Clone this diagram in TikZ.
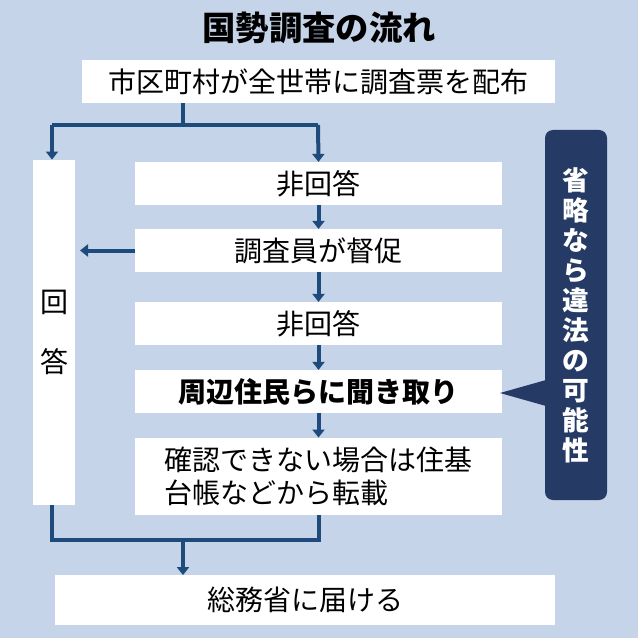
\documentclass[tikz,border=0pt]{standalone}
\usepackage{fontspec}
\setmainfont{Noto Sans CJK JP}
\usetikzlibrary{arrows.meta,positioning}
\definecolor{bgblue}{HTML}{C6D4EA}
\definecolor{navy}{HTML}{1F4A7C}
\definecolor{calloutblue}{HTML}{253A64}
\tikzset{
    % white step boxes
    stepbox/.style={
           rectangle,
           fill=white,
           inner sep=0pt,
           font=\fontsize{21}{25}\selectfont},
    % flow arrows
    flow/.style={
           -{Triangle[width=9pt,length=6pt]},
           navy, line width=3pt},
    flowline/.style={navy, line width=3pt}
}
\begin{document}
\begin{tikzpicture}[x=0.75pt,y=-0.75pt]
    \useasboundingbox[fill=bgblue] (0,0) rectangle (638,638);
    % title
    \node[font=\fontsize{25}{30}\selectfont\bfseries] (title) at (319,28) {国勢調査の流れ};

    % boxes
    \node[stepbox, minimum width=355pt, minimum height=32pt] (distribute) at (318.5,81.5) {市区町村が全世帯に調査票を配布};
    \node[stepbox, minimum width=31.5pt, minimum height=259pt, align=center] (answer) at (54,332.5) {回\\[20pt]答};
    \node[stepbox, minimum width=275pt, minimum height=32pt] (noans1) at (318.5,183.5) {非回答};
    \node[stepbox, minimum width=275pt, minimum height=32pt] (urge) at (318.5,250.5) {調査員が督促};
    \node[stepbox, minimum width=275pt, minimum height=32pt] (noans2) at (318.5,323.5) {非回答};
    \node[stepbox, minimum width=275pt, minimum height=32pt, font=\fontsize{21}{25}\selectfont\bfseries] (hearing) at (318.5,391.5) {周辺住民らに聞き取り};
    \node[stepbox, minimum width=275pt, minimum height=58pt, align=left] (transcribe) at (318.5,476.5) {確認できない場合は住基\\台帳などから転載};
    \node[stepbox, minimum width=375pt, minimum height=37pt] (report) at (305,600) {総務省に届ける};

    % callout
    \fill[calloutblue, rounded corners=6pt] (545,130) rectangle (607,500);
    \fill[calloutblue] (546,380) -- (500,393) -- (546,406) -- cycle;
    \node[text=white, font=\fontsize{20}{22.5}\selectfont\bfseries, align=center] (callout) at (576,315) {省\\略\\な\\ら\\違\\法\\の\\可\\能\\性};

    % split after distribution
    \coordinate (split) at (183,125);
    \coordinate (leftsplit) at (52,125);
    \coordinate (rightsplit) at (318,125);
    \draw[flowline] (distribute.south -| split) -- (split);
    \draw[flowline] (leftsplit) -- (rightsplit);
    \draw[flow] (leftsplit) -- (leftsplit |- answer.north);
    \draw[flow] (rightsplit) -- (noans1.north);

    % main column
    \draw[flow] (noans1) -- (urge);
    \draw[flow] (urge) -- (noans2);
    \draw[flow] (noans2) -- (hearing);
    \draw[flow] (hearing) -- (transcribe);
    \draw[flow] (urge.west) -- (80,250.5);

    % merge to report
    \coordinate (merge) at (183,540);
    \coordinate (leftmerge) at (52,540);
    \draw[flowline] (leftmerge |- answer.south) -- (leftmerge) -- (merge -| transcribe.south) -- (transcribe.south);
    \draw[flow] (merge) -- (merge |- report.north);
\end{tikzpicture}
\end{document}
